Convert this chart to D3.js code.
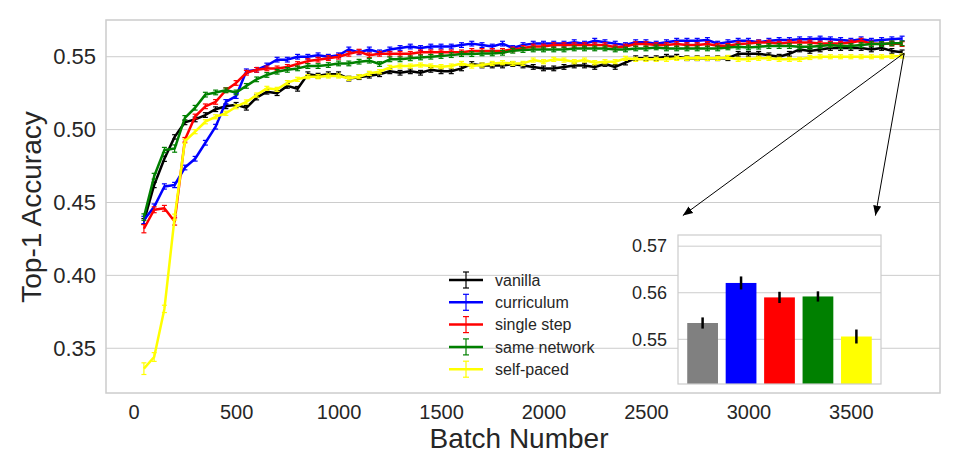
<!DOCTYPE html>
<html lang="en">
<head>
<meta charset="UTF-8">
<title>Top-1 Accuracy</title>
<script src="https://d3js.org/d3.v7.min.js"></script>
<style>
  body { margin: 0; background: #fff; }
  svg { font-family: Arial, "Liberation Sans", Helvetica, sans-serif; }
  .tick text { fill: #262626; }
  .grid line { stroke: #cccccc; stroke-width: 1px; }
  path.series { fill: none; stroke-width: 2.5px; stroke-linejoin: round; }
</style>
</head>
<body>
<svg width="960" height="476"></svg>
<script>
// data
const batches = d3.range(50, 3751, 50);   // 50, 100, ... 3750
const seriesNames = ['vanilla', 'curriculum', 'single step', 'same network', 'self-paced'];
const seriesColors = ['#000000', '#0000ff', '#ff0000', '#008000', '#ffff00'];

const vanilla = [0.437,0.462,0.480,0.495,0.505,0.507,0.510,0.514,0.516,0.517,
  0.515,0.522,0.526,0.525,0.530,0.528,0.538,0.537,0.538,0.538,
  0.535,0.536,0.537,0.538,0.540,0.539,0.540,0.539,0.541,0.540,
  0.540,0.542,0.545,0.544,0.544,0.544,0.545,0.544,0.543,0.542,
  0.542,0.543,0.544,0.544,0.543,0.545,0.543,0.546,0.549,0.549,
  0.549,0.550,0.550,0.549,0.549,0.549,0.549,0.549,0.552,0.552,
  0.552,0.551,0.550,0.552,0.555,0.554,0.555,0.556,0.556,0.556,
  0.556,0.555,0.556,0.554,0.553];
const curriculum = [0.438,0.447,0.461,0.462,0.474,0.480,0.491,0.502,0.519,0.523,
  0.540,0.541,0.544,0.548,0.548,0.550,0.550,0.551,0.550,0.551,
  0.555,0.553,0.555,0.553,0.555,0.556,0.557,0.556,0.557,0.557,
  0.557,0.558,0.559,0.558,0.557,0.559,0.556,0.558,0.559,0.559,
  0.559,0.559,0.560,0.559,0.561,0.560,0.559,0.558,0.560,0.560,
  0.559,0.560,0.561,0.561,0.561,0.5615,0.559,0.560,0.561,0.561,
  0.560,0.561,0.5615,0.5615,0.562,0.562,0.5625,0.562,0.5615,0.561,
  0.562,0.561,0.5615,0.562,0.5625];
const singleStep = [0.432,0.445,0.446,0.437,0.493,0.509,0.516,0.519,0.527,0.532,
  0.539,0.541,0.542,0.542,0.543,0.545,0.547,0.548,0.549,0.550,
  0.552,0.5535,0.551,0.552,0.552,0.552,0.552,0.553,0.553,0.553,
  0.553,0.553,0.554,0.554,0.554,0.554,0.555,0.556,0.557,0.557,
  0.558,0.558,0.558,0.558,0.558,0.558,0.5565,0.557,0.5587,0.5587,
  0.558,0.558,0.5587,0.558,0.558,0.5587,0.5575,0.5575,0.5587,0.559,
  0.5597,0.5597,0.559,0.5597,0.5597,0.5597,0.559,0.559,0.559,0.5597,
  0.561,0.559,0.5587,0.559,0.5587];
const sameNetwork = [0.440,0.468,0.486,0.487,0.508,0.515,0.524,0.5255,0.527,0.5255,
  0.530,0.5345,0.5375,0.5397,0.541,0.542,0.5436,0.5436,0.5443,0.5454,
  0.5454,0.5466,0.5473,0.545,0.5482,0.5482,0.5489,0.5495,0.550,0.5505,
  0.5511,0.5518,0.5518,0.5523,0.5523,0.5527,0.5541,0.5546,0.555,0.555,
  0.555,0.555,0.5557,0.5557,0.5557,0.5557,0.555,0.555,0.5557,0.5557,
  0.5564,0.5557,0.5557,0.5557,0.5557,0.5557,0.5557,0.5564,0.5569,0.5564,
  0.5569,0.5573,0.5573,0.5573,0.5569,0.5569,0.5573,0.558,0.5573,0.5573,
  0.558,0.5587,0.5587,0.5592,0.5592];
const selfPaced = [0.336,0.344,0.377,0.440,0.492,0.4986,0.5054,0.5088,0.5112,0.5157,
  0.519,0.5237,0.5283,0.5276,0.5322,0.5345,0.5363,0.5363,0.5368,0.5368,
  0.5352,0.5363,0.5386,0.5397,0.5427,0.5436,0.5436,0.5443,0.5436,0.5432,
  0.5436,0.5454,0.5436,0.5443,0.5454,0.5459,0.5454,0.5454,0.5477,0.5466,
  0.5482,0.5477,0.5466,0.5477,0.5459,0.5466,0.5466,0.5489,0.5482,0.5482,
  0.5482,0.5482,0.5489,0.5489,0.5489,0.5489,0.5489,0.5495,0.5482,0.5482,
  0.5489,0.5489,0.5482,0.5482,0.5482,0.5495,0.550,0.550,0.550,0.550,
  0.550,0.550,0.550,0.5502,0.5505];

// error bar half-heights: first points are wider, the rest are about the same
const errHead = [
  [0.002,0.0018,0.0018,0.0015],
  [0.0025,0.002,0.0018,0.0018],
  [0.0028,0.002,0.002,0.0025],
  [0.0022,0.002,0.0018,0.0025],
  [0.004,0.003,0.0025,0.002]
];
const errTail = [0.0016, 0.0016, 0.0016, 0.0016, 0.0014];

// inset: mean of the last stretch
const barValues = [0.5535, 0.5621, 0.5590, 0.5592, 0.5506];
const barErrors = [0.0012, 0.0014, 0.0012, 0.0011, 0.0015];
const barColors = ['#808080', '#0000ff', '#ff0000', '#008000', '#ffff00'];

const xTicks = [0, 500, 1000, 1500, 2000, 2500, 3000, 3500];
const yTicks = [0.35, 0.40, 0.45, 0.50, 0.55];
const insetTicks = [0.55, 0.56, 0.57];

const allSeries = [vanilla, curriculum, singleStep, sameNetwork, selfPaced];

// main plot
let svg = d3.select('svg');
let box = {left: 106, right: 940, top: 20, bottom: 393};

let xScale = d3.scaleLinear().domain([-135, 3935]).range([box.left, box.right]);
let yScale = d3.scaleLinear().domain([0.3193, 0.5752]).range([box.bottom, box.top]);

svg.append('rect')
  .attr('x', box.left).attr('y', box.top)
  .attr('width', box.right - box.left).attr('height', box.bottom - box.top)
  .attr('fill', '#fff');

// horizontal grid
svg.append('g').attr('class', 'grid')
  .selectAll('line').data(yTicks).join('line')
  .attr('x1', box.left).attr('x2', box.right)
  .attr('y1', d => yScale(d)).attr('y2', d => yScale(d));

// axes (labels only, no tick marks)
let xAxis = svg.append('g')
  .attr('transform', `translate(0,${box.bottom})`)
  .call(d3.axisBottom(xScale).tickValues(xTicks).tickFormat(d3.format('d')).tickSize(0).tickPadding(10));
xAxis.select('.domain').remove();
xAxis.selectAll('text').attr('font-size', '20px').attr('dy', '0.8em');

let yAxis = svg.append('g')
  .attr('transform', `translate(${box.left},0)`)
  .call(d3.axisLeft(yScale).tickValues(yTicks).tickFormat(d3.format('.2f')).tickSize(0).tickPadding(10));
yAxis.select('.domain').remove();
yAxis.selectAll('text').attr('font-size', '22px');

svg.append('text')
  .attr('x', (box.left + box.right) / 2 - 4).attr('y', 448)
  .attr('text-anchor', 'middle').attr('font-size', '28px').attr('fill', '#262626')
  .text('Batch Number');

svg.append('text')
  .attr('transform', 'translate(41,207) rotate(-90)')
  .attr('text-anchor', 'middle').attr('font-size', '28px').attr('fill', '#262626')
  .text('Top-1 Accuracy');

// lines with error bars
let line = d3.line()
  .x(d => xScale(d.b))
  .y(d => yScale(d.v));

allSeries.forEach(function (vals, i) {
  let pts = vals.map((v, j) => ({b: batches[j], v: v, e: j < errHead[i].length ? errHead[i][j] : errTail[i]}));
  let g = svg.append('g');
  g.append('path').datum(pts)
    .attr('class', 'series')
    .attr('stroke', seriesColors[i])
    .attr('d', line);
  let eb = g.selectAll('g.err').data(pts).join('g').attr('class', 'err')
    .attr('stroke', seriesColors[i]).attr('stroke-width', 1.2);
  eb.append('line')
    .attr('x1', d => xScale(d.b)).attr('x2', d => xScale(d.b))
    .attr('y1', d => yScale(d.v - d.e)).attr('y2', d => yScale(d.v + d.e));
  eb.append('line')
    .attr('x1', d => xScale(d.b) - 2.5).attr('x2', d => xScale(d.b) + 2.5)
    .attr('y1', d => yScale(d.v - d.e)).attr('y2', d => yScale(d.v - d.e));
  eb.append('line')
    .attr('x1', d => xScale(d.b) - 2.5).attr('x2', d => xScale(d.b) + 2.5)
    .attr('y1', d => yScale(d.v + d.e)).attr('y2', d => yScale(d.v + d.e));
});

// frame
svg.append('rect')
  .attr('x', box.left).attr('y', box.top)
  .attr('width', box.right - box.left).attr('height', box.bottom - box.top)
  .attr('fill', 'none').attr('stroke', '#cccccc').attr('stroke-width', 1.5);

// legend
let legend = svg.append('g').attr('transform', 'translate(449,280)');
seriesNames.forEach(function (name, i) {
  let row = legend.append('g').attr('transform', `translate(0,${i * 22.3})`);
  row.append('line').attr('x1', 0).attr('x2', 34).attr('y1', 0).attr('y2', 0)
    .attr('stroke', seriesColors[i]).attr('stroke-width', 2.5);
  row.append('line').attr('x1', 17).attr('x2', 17).attr('y1', -8).attr('y2', 8)
    .attr('stroke', seriesColors[i]).attr('stroke-width', 1.2);
  row.append('line').attr('x1', 14).attr('x2', 20).attr('y1', -8).attr('y2', -8)
    .attr('stroke', seriesColors[i]).attr('stroke-width', 1.2);
  row.append('line').attr('x1', 14).attr('x2', 20).attr('y1', 8).attr('y2', 8)
    .attr('stroke', seriesColors[i]).attr('stroke-width', 1.2);
  row.append('text').attr('x', 46).attr('y', 0).attr('dy', '0.35em')
    .attr('font-size', '16px').attr('fill', '#262626').text(name);
});

// arrows from the end of the curves to the inset
let defs = svg.append('defs');
defs.append('marker').attr('id', 'head')
  .attr('viewBox', '0 0 10 10').attr('refX', 10).attr('refY', 5)
  .attr('markerWidth', 10).attr('markerHeight', 10).attr('markerUnits', 'userSpaceOnUse')
  .attr('orient', 'auto')
  .append('path').attr('d', 'M0,1 L10,5 L0,9 Z').attr('fill', '#000');

const arrowFrom = [3760, 0.5525];
const arrowTo = [[2680, 0.441], [3620, 0.441]];
arrowTo.forEach(function (t) {
  svg.append('line')
    .attr('x1', xScale(arrowFrom[0])).attr('y1', yScale(arrowFrom[1]))
    .attr('x2', xScale(t[0])).attr('y2', yScale(t[1]))
    .attr('stroke', '#000').attr('stroke-width', 1)
    .attr('marker-end', 'url(#head)');
});

// inset bar chart
let ibox = {left: 678, right: 881, top: 235, bottom: 384};
let ix = d3.scaleLinear().domain([-0.64, 4.64]).range([ibox.left, ibox.right]);
let iy = d3.scaleLinear().domain([0.5404, 0.5724]).range([ibox.bottom, ibox.top]);

let inset = svg.append('g');
inset.append('rect')
  .attr('x', ibox.left).attr('y', ibox.top)
  .attr('width', ibox.right - ibox.left).attr('height', ibox.bottom - ibox.top)
  .attr('fill', '#fff');

inset.append('g').attr('class', 'grid')
  .selectAll('line').data(insetTicks).join('line')
  .attr('x1', ibox.left).attr('x2', ibox.right)
  .attr('y1', d => iy(d)).attr('y2', d => iy(d));

let iAxis = inset.append('g')
  .attr('transform', `translate(${ibox.left},0)`)
  .call(d3.axisLeft(iy).tickValues(insetTicks).tickFormat(d3.format('.2f')).tickSize(0).tickPadding(11));
iAxis.select('.domain').remove();
iAxis.selectAll('text').attr('font-size', '18px');

inset.selectAll('rect.bar').data(barValues).join('rect')
  .attr('class', 'bar')
  .attr('x', (d, i) => ix(i - 0.4))
  .attr('width', ix(0.8) - ix(0))
  .attr('y', d => iy(d))
  .attr('height', d => ibox.bottom - iy(d))
  .attr('fill', (d, i) => barColors[i]);

inset.selectAll('line.ebar').data(barValues).join('line')
  .attr('class', 'ebar')
  .attr('x1', (d, i) => ix(i)).attr('x2', (d, i) => ix(i))
  .attr('y1', (d, i) => iy(d - barErrors[i])).attr('y2', (d, i) => iy(d + barErrors[i]))
  .attr('stroke', '#000').attr('stroke-width', 2.5);

inset.append('rect')
  .attr('x', ibox.left).attr('y', ibox.top)
  .attr('width', ibox.right - ibox.left).attr('height', ibox.bottom - ibox.top)
  .attr('fill', 'none').attr('stroke', '#cccccc').attr('stroke-width', 1.2);
</script>
</body>
</html>
